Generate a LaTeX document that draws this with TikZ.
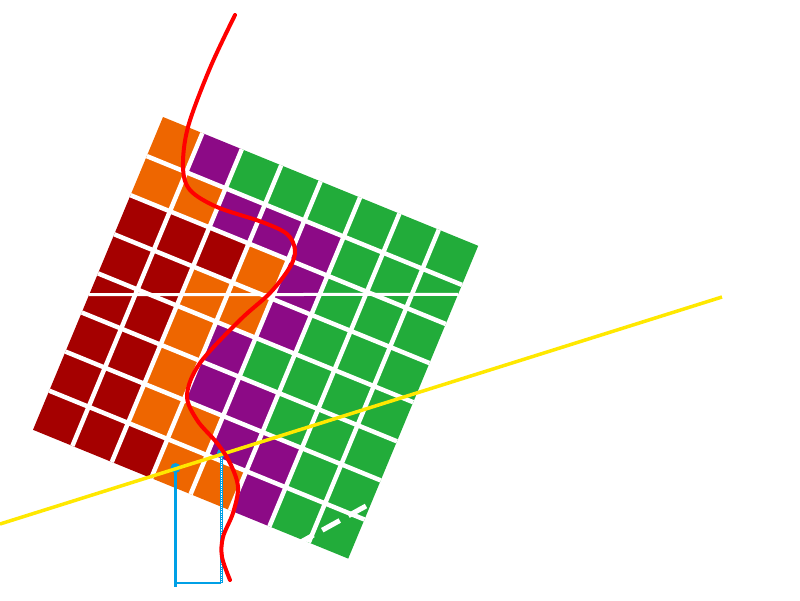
\documentclass[tikz,border=0pt]{standalone}
\begin{document}
\definecolor{colO}{HTML}{EE6600}
\definecolor{colP}{HTML}{8C0A86}
\definecolor{colG}{HTML}{22AC3A}
\definecolor{colR}{HTML}{A50000}
\definecolor{bracketblue}{HTML}{00A0E6}
\definecolor{lineyellow}{HTML}{FFE800}
\begin{tikzpicture}[x=1pt,y=-1pt,
  gridline/.style={white,line width=4.5pt},
  bracket/.style={bracketblue,line width=3pt},
  wave/.style={red,line width=4pt,line cap=round,line join=round}]
\useasboundingbox (0,0) rectangle (800,600);
% grid of cells
\begin{scope}[shift={(163,117)},x={(39.4pt,-16.1pt)},y={(-16.25pt,-39.1pt)}]
  \foreach \row [count=\j from 0] in {
    {O,P,G,G,G,G,G,G},
    {O,O,P,P,P,G,G,G},
    {R,R,R,O,P,G,G,G},
    {R,R,O,O,P,G,G,G},
    {R,R,O,P,G,G,G,G},
    {R,R,O,P,P,G,G,G},
    {R,R,O,O,P,P,G,G},
    {R,R,R,O,O,P,G,G}} {
    \foreach \c [count=\i from 0] in \row {
      \fill[col\c] (\i,\j) -- ++(1,0) -- ++(0,1) -- ++(-1,0) -- cycle;
    }
  }
  \foreach \k in {1,...,7} {
    \draw[gridline] (\k,0) -- (\k,8);
    \draw[gridline] (0,\k) -- (8,\k);
  }
  \draw[white,line width=3pt] (0,4.54) -- (8,1.245);
\end{scope}
% white dashed segment
\draw[white,line width=5pt,dash pattern=on 20pt off 10pt] (366,506) -- (290,548);
% blue bracket
\coordinate (bl) at (175.5,468);
\coordinate (br) at (221.5,453);
\coordinate (blb) at (175.5,587);
\coordinate (bc1) at (175.5,583);
\coordinate (bc2) at (221.5,583);
\draw[bracket] (bl) -- (blb);
\fill[bracketblue] (bl) circle[radius=5pt];
\draw[bracketblue,line width=2.5pt] (bc1) -- (bc2);
\draw[bracket] (br) -- (bc2);
\draw[white,line width=0.8pt,densely dotted] (br) -- (bc2);
\fill[bracketblue] (br) circle[radius=4.5pt];
% yellow line
\coordinate (y1) at (0,524);
\coordinate (y2) at (722,297);
\draw[lineyellow,line width=3.5pt] (y1) -- (y2);
% red wave
\draw[wave] plot[smooth,tension=0.55] coordinates {
  (235,15) (210,68) (188,127) (183,167) (190,190) (217,207) (262,222)
  (287,234) (295,250) (290,267) (270,293) (240,320) (200,363) (187,395)
  (197,420) (217,443) (230,463) (238,487) (233,513) (223,537) (222,557) (230,580)};
\end{tikzpicture}
\end{document}
